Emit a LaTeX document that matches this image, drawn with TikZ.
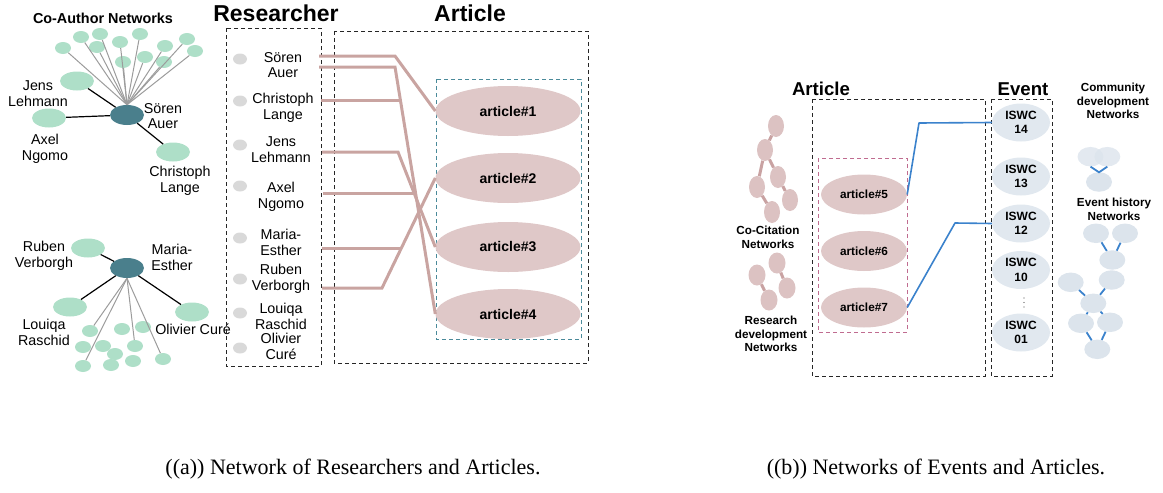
\documentclass[tikz,border=0pt]{standalone}
\usepackage{fontspec}
\setmainfont{Liberation Sans}
\newfontfamily\capfont{Liberation Serif}
\usetikzlibrary{shapes.geometric}

\definecolor{mint}{HTML}{AEDFC8}
\definecolor{hubcol}{HTML}{4A7F8C}
\definecolor{spokecol}{HTML}{9C9C9C}
\definecolor{dotgray}{HTML}{D9D9D9}
\definecolor{paperpink}{HTML}{DFC8C8}
\definecolor{linkrose}{HTML}{C9A4A1}
\definecolor{tealframe}{HTML}{4A8A9A}
\definecolor{pinkframe}{HTML}{C06C90}
\definecolor{iswcfill}{HTML}{E1E8EF}
\definecolor{bluelink}{HTML}{3B82CC}
\definecolor{citefill}{HTML}{DCC2C2}
\definecolor{citelink}{HTML}{C9A2A2}
\definecolor{histfill}{HTML}{DCE4EC}

\tikzset{
  hub/.style={ellipse, fill=hubcol, minimum width=34pt, minimum height=20pt, inner sep=0pt},
  peer/.style={ellipse, fill=mint, minimum width=34pt, minimum height=19pt, inner sep=0pt},
  leaf/.style={ellipse, fill=mint, minimum width=16pt, minimum height=12pt, inner sep=0pt},
  tie/.style={draw=black, line width=1.2pt},
  spoke/.style={draw=spokecol, line width=1pt},
  authorname/.style={font=\fontsize{14.3}{15.8}\selectfont, align=center, inner sep=0pt},
  headline/.style={font=\bfseries\fontsize{23}{26}\selectfont, inner sep=0pt},
  subhead/.style={font=\bfseries\fontsize{18.6}{21}\selectfont, inner sep=0pt},
  netlabel/.style={font=\bfseries\fontsize{11.7}{13.8}\selectfont, align=center, inner sep=0pt},
  person/.style={ellipse, fill=dotgray, minimum width=14pt, minimum height=11pt, inner sep=0pt},
  paper/.style={ellipse, fill=paperpink, minimum width=145pt, minimum height=50pt, inner sep=0pt,
    font=\bfseries\fontsize{14}{16}\selectfont},
  minipaper/.style={ellipse, fill=paperpink, minimum width=86pt, minimum height=40pt, inner sep=0pt,
    font=\bfseries\fontsize{11.8}{14}\selectfont},
  eventnode/.style={ellipse, fill=iswcfill, minimum width=58pt, minimum height=38pt, inner sep=0pt,
    align=center, font=\bfseries\fontsize{12}{14.3}\selectfont},
  authorlink/.style={draw=linkrose, line width=3pt},
  eventlink/.style={draw=bluelink, line width=1.6pt},
  boxframe/.style={draw=black!85, dash pattern=on 4pt off 3pt, line width=0.9pt},
  cite/.style={ellipse, fill=citefill, minimum width=16pt, minimum height=22pt, inner sep=0pt},
  citeedge/.style={draw=citelink, line width=3pt},
  hist/.style={ellipse, fill=histfill, minimum width=26pt, minimum height=19.5pt, inner sep=0pt},
  histedge/.style={draw=bluelink, line width=1.8pt},
  captiontext/.style={font=\capfont\fontsize{22}{26}\selectfont, inner sep=0pt}
}

\begin{document}
\begin{tikzpicture}[x=1pt,y=-1pt]
\useasboundingbox (0,0) rectangle (1163,493);

% ---------------- co-author networks ----------------
\node[font=\bfseries\fontsize{14.4}{16}\selectfont, inner sep=0pt] (cotitle) at (103,18) {Co-Author Networks};

% first network, around Sören Auer
\node[hub]  (soren)  at (127,115) {};
\node[peer] (jens)   at (77,81) {};
\node[peer] (axel)   at (49,118) {};
\node[peer] (chris)  at (173,152) {};
\foreach \i/\p in {1/{63,48},2/{81,37},3/{100,34},4/{97,47},5/{120,42},6/{140,34},
                   7/{123,62},8/{145,57},9/{165,46},10/{187,39},11/{195,51},12/{164,62}}
  \node[leaf] (fa\i) at (\p) {};
\foreach \i in {1,...,12}
  \draw[spoke] (soren.north) -- (fa\i);
\draw[tie] (soren) -- (jens);
\draw[tie] (soren) -- (axel);
\draw[tie] (soren) -- (chris);
\node[authorname] (lsoren) at (163,116) {Sören\\Auer};
\node[authorname] (ljens)  at (38,94)   {Jens\\Lehmann};
\node[authorname] (laxel)  at (45,149)  {Axel\\Ngomo};
\node[authorname] (lchris) at (180,181) {Christoph\\Lange};

% second network, around Maria-Esther
\node[hub]  (maria)  at (127,268) {};
\node[peer] (ruben)  at (88,248) {};
\node[peer] (louiqa) at (70,307) {};
\node[peer] (olivier) at (192,312) {};
\foreach \i/\p in {1/{90,331},2/{122,329},3/{143,327},4/{83,347},5/{103,346},6/{135,346},
                   7/{115,354},8/{133,361},9/{163,359},10/{83,366},11/{111,365}}
  \node[leaf] (fb\i) at (\p) {};
\foreach \i in {1,10,6,9}
  \draw[spoke] (maria.south) -- (fb\i);
\draw[tie] (maria) -- (ruben);
\draw[tie] (maria) -- (louiqa);
\draw[tie] (maria) -- (olivier);
\node[authorname] (lmaria)   at (172,257) {Maria-\\Esther};
\node[authorname] (lruben)   at (44,256)  {Ruben\\Verborgh};
\node[authorname] (llouiqa)  at (44,332)  {Louiqa\\Raschid};
\node[authorname] (lolivier) at (193,329) {Olivier Curé};

% ---------------- researcher column ----------------
\node[headline] (restitle) at (276,13) {Researcher};
\draw[boxframe] (226,28) rectangle (321,366);
\foreach \i/\y in {1/59,2/101,3/145,4/186,5/238,6/279,7/313,8/348}
  \node[person] (p\i) at (240,\y) {};
\node[authorname] (r1) at (283,65)  {Sören\\Auer};
\node[authorname] (r2) at (283,108) {Christoph\\Lange};
\node[authorname] (r3) at (281,150) {Jens\\Lehmann};
\node[authorname] (r4) at (281,197) {Axel\\Ngomo};
\node[authorname] (r5) at (281,242) {Maria-\\Esther};
\node[authorname] (r6) at (281,279) {Ruben\\Verborgh};
\node[authorname] (r7) at (281,316) {Louiqa\\Raschid};
\node[authorname] (r8) at (281,346) {Olivier\\Curé};

% ---------------- article column ----------------
\node[headline] (arttitle) at (470,13) {Article};
\draw[boxframe] (334,31) rectangle (588,363);
\draw[draw=tealframe, dash pattern=on 4pt off 3pt, line width=0.9pt] (436,79) rectangle (581,339);
\node[paper] (art1) at (508,111) {article\#1};
\node[paper] (art2) at (508,178) {article\#2};
\node[paper] (art3) at (508,247) {article\#3};
\node[paper] (art4) at (508,314) {article\#4};

% authorship links
\coordinate (s1) at (319,56);   \coordinate (b1) at (395,56);
\coordinate (s2) at (319,67);   \coordinate (b2) at (395,67);
\coordinate (c1) at (321,100);  \coordinate (c2) at (400.5,100);
\coordinate (j1) at (322,152);  \coordinate (b3) at (398,152);
\coordinate (x1) at (323,193);  \coordinate (x2) at (416,193);
\coordinate (m1) at (322,248);  \coordinate (m2) at (401.6,248);
\coordinate (v1) at (322,288);  \coordinate (b4) at (382,288);
\draw[authorlink, line join=miter] (s1) -- (b1) -- (art1.west);
\draw[authorlink, line join=miter] (s2) -- (b2) -- (art4.west);
\draw[authorlink] (c1) -- (c2);
\draw[authorlink, line join=miter] (j1) -- (b3) -- (art3.west);
\draw[authorlink] (x1) -- (x2);
\draw[authorlink] (m1) -- (m2);
\draw[authorlink, line join=miter] (v1) -- (b4) -- (art2.west);

% ---------------- article / event networks ----------------
\node[subhead] (art2title) at (821,89) {Article};
\node[subhead] (evtitle)   at (1023,89) {Event};
\draw[boxframe] (812,99) rectangle (985,376);
\draw[boxframe] (991,99) rectangle (1052,376);
\draw[draw=pinkframe, dash pattern=on 4pt off 3pt, line width=0.9pt] (818,158) rectangle (907,332);
\node[minipaper] (art5) at (864,194.5) {article\#5};
\node[minipaper] (art6) at (864,251)   {article\#6};
\node[minipaper] (art7) at (864,307.5) {article\#7};

\node[eventnode] (ev14) at (1021,122.5) {ISWC\\14};
\node[eventnode] (ev13) at (1021,176.5) {ISWC\\13};
\node[eventnode] (ev12) at (1021,223.5) {ISWC\\12};
\node[eventnode] (ev10) at (1021,270)   {ISWC\\10};
\node[eventnode] (ev01) at (1021,332.5) {ISWC\\01};
\foreach \y in {298,302.5,307}
  \fill[black!70] (1024,\y) circle (0.7pt);

\coordinate (k1) at (919,123);
\coordinate (k2) at (955,223);
\draw[eventlink, line join=round] (art5.east) -- (k1) -- (ev14.west);
\draw[eventlink, line join=round] (art7.east) -- (k2) -- (ev12.west);

% co-citation network
\node[cite] (cc1) at (776,126) {};
\node[cite] (cc2) at (765,150) {};
\node[cite] (cc3) at (757,187) {};
\node[cite] (cc4) at (778,177) {};
\node[cite] (cc5) at (790,200) {};
\node[cite] (cc6) at (772,212) {};
\draw[citeedge] (cc1) -- (cc2);
\draw[citeedge] (cc2) -- (cc3);
\draw[citeedge] (cc2) -- (cc4);
\draw[citeedge] (cc4) -- (cc5);
\draw[citeedge] (cc3) -- (cc6);
\node[netlabel] (cclabel) at (768,237) {Co-Citation\\Networks};

% research development network
\node[cite, minimum height=21pt, minimum width=17pt] (rd1) at (777,263) {};
\node[cite, minimum height=21pt, minimum width=17pt] (rd2) at (757,275) {};
\node[cite, minimum height=21pt, minimum width=17pt] (rd3) at (787,288) {};
\node[cite, minimum height=21pt, minimum width=17pt] (rd4) at (769,300) {};
\draw[citeedge] (rd1) -- (rd3);
\draw[citeedge] (rd2) -- (rd4);
\node[netlabel] (rdlabel) at (771,334) {Research\\development\\Networks};

% community development network
\node[netlabel] (cmlabel) at (1113,101) {Community\\development\\Networks};
\node[hist, fill opacity=0.8] (cm1) at (1090.5,156.7) {};
\node[hist, fill opacity=0.8] (cm2) at (1107.3,156.7) {};
\node[hist] (cm3) at (1099,182) {};
\coordinate (cmv) at (1099,172.3);
\draw[histedge] (cm1.south) -- (cmv) -- (cm2.south);

% event history network
\node[netlabel] (ehlabel) at (1114,209) {Event history\\Networks};
\node[hist] (eha) at (1096,233.3) {};
\node[hist] (ehb) at (1125,233.3) {};
\node[hist] (ehc) at (1112.3,260) {};
\node[hist] (ehd) at (1111.7,280) {};
\node[hist] (ehe) at (1070.7,282.3) {};
\node[hist] (ehf) at (1093.3,303.3) {};
\node[hist] (ehg) at (1081,323.3) {};
\node[hist] (ehh) at (1110,322.3) {};
\node[hist] (ehi) at (1097.3,349.3) {};
\foreach \a/\b in {eha/ehc,ehb/ehc,ehd/ehf,ehe/ehf,ehf/ehg,ehf/ehh,ehg/ehi,ehh/ehi}
  \draw[histedge] (\a) -- (\b);

% ---------------- captions ----------------
\node[captiontext] (capa) at (353,469) {((a)) Network of Researchers and Articles.};
\node[captiontext] (capb) at (936,469) {((b)) Networks of Events and Articles.};
\end{tikzpicture}
\end{document}
